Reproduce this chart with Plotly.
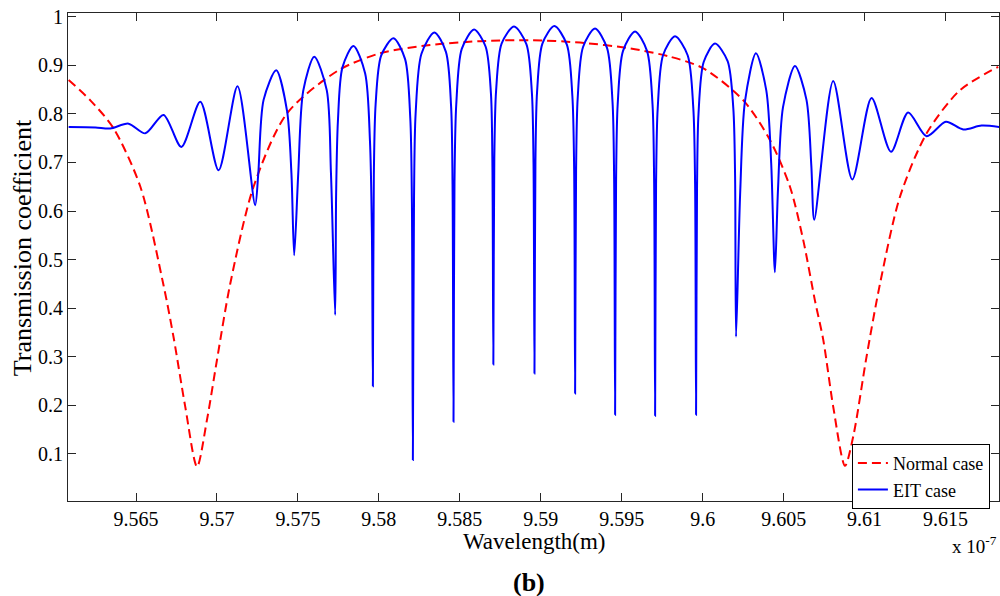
import plotly.graph_objects as go

# wavelength in units of 1e-7 m
normal_wl = [9.56084, 9.56218, 9.56360, 9.56527, 9.56670, 9.56732, 9.56804, 9.56877, 9.56938,
             9.57000, 9.57082, 9.57226, 9.57432, 9.57751, 9.58008, 9.58317, 9.58625, 9.58934,
             9.59243, 9.59551, 9.59798, 9.60004, 9.60251, 9.60416, 9.60539, 9.60621, 9.60693,
             9.60745, 9.60806, 9.60879, 9.60930, 9.61012, 9.61095, 9.61218, 9.61383, 9.61589,
             9.61825]
normal_t = [0.870, 0.828, 0.771, 0.650, 0.447, 0.340, 0.197, 0.073, 0.169,
            0.293, 0.450, 0.650, 0.801, 0.890, 0.925, 0.942, 0.950, 0.952,
            0.947, 0.935, 0.918, 0.894, 0.828, 0.746, 0.650, 0.540, 0.416,
            0.334, 0.197, 0.075, 0.136, 0.300, 0.450, 0.629, 0.760, 0.849,
            0.897]

eit_wl = [
    9.56084, 9.56250, 9.56341, 9.56454, 9.56557, 9.56670, 9.56780, 9.56897, 9.57010, 9.57127, 9.57236,
    9.57255, 9.57288, 9.57366, 9.57433, 9.57460, 9.57477,
    9.57502, 9.57533, 9.57601, 9.57678, 9.57704, 9.57730,
    9.57736, 9.57747, 9.57775, 9.57843, 9.57915, 9.57945, 9.57957, 9.57963,
    9.57969, 9.57980, 9.58014, 9.58090, 9.58162, 9.58194, 9.58204, 9.58210,
    9.58217, 9.58227, 9.58263, 9.58343, 9.58414, 9.58446, 9.58455, 9.58461,
    9.58467, 9.58478, 9.58512, 9.58588, 9.58659, 9.58692, 9.58701, 9.58707,
    9.58713, 9.58724, 9.58758, 9.58835, 9.58911, 9.58945, 9.58955, 9.58961,
    9.58967, 9.58977, 9.59010, 9.59084, 9.59161, 9.59195, 9.59206, 9.59212,
    9.59218, 9.59228, 9.59261, 9.59335, 9.59409, 9.59443, 9.59453, 9.59459,
    9.59465, 9.59475, 9.59508, 9.59582, 9.59656, 9.59690, 9.59700, 9.59706,
    9.59712, 9.59722, 9.59755, 9.59829, 9.59907, 9.59942, 9.59953, 9.59959,
    9.59965, 9.59974, 9.60006, 9.60076, 9.60154, 9.60189, 9.60200, 9.60206,
    9.60231, 9.60261, 9.60329, 9.60393, 9.60423, 9.60446,
    9.60465, 9.60496, 9.60570, 9.60641, 9.60671, 9.60689,
    9.60806, 9.60924, 9.61043, 9.61163, 9.61269, 9.61383, 9.61502, 9.61609, 9.61722, 9.61835,
]
eit_t = [
    0.773, 0.772, 0.770, 0.780, 0.760, 0.798, 0.732, 0.825, 0.684, 0.857, 0.612,
    0.676, 0.829, 0.890, 0.806, 0.677, 0.509,
    0.677, 0.848, 0.918, 0.849, 0.679, 0.386,
    0.635, 0.785, 0.896, 0.940, 0.884, 0.744, 0.554, 0.239,
    0.676, 0.820, 0.920, 0.956, 0.913, 0.791, 0.617, 0.087,
    0.624, 0.801, 0.924, 0.968, 0.928, 0.816, 0.655, 0.166,
    0.659, 0.820, 0.934, 0.974, 0.939, 0.843, 0.705, 0.284,
    0.709, 0.848, 0.945, 0.980, 0.944, 0.844, 0.701, 0.265,
    0.702, 0.845, 0.945, 0.981, 0.943, 0.837, 0.686, 0.224,
    0.683, 0.833, 0.938, 0.976, 0.936, 0.825, 0.666, 0.180,
    0.662, 0.820, 0.930, 0.970, 0.930, 0.820, 0.661, 0.178,
    0.655, 0.811, 0.921, 0.960, 0.921, 0.812, 0.656, 0.180,
    0.647, 0.800, 0.907, 0.945, 0.909, 0.812, 0.673, 0.341,
    0.633, 0.826, 0.925, 0.848, 0.699, 0.474,
    0.644, 0.814, 0.899, 0.829, 0.693, 0.582,
    0.868, 0.665, 0.833, 0.722, 0.803, 0.754, 0.784, 0.768, 0.776, 0.773,
]

x_ticks = [9.565, 9.57, 9.575, 9.58, 9.585, 9.59, 9.595, 9.6, 9.605, 9.61, 9.615]
x_ticktext = ["9.565", "9.57", "9.575", "9.58", "9.585", "9.59", "9.595", "9.6", "9.605", "9.61", "9.615"]
y_ticks = [0.1, 0.2, 0.3, 0.4, 0.5, 0.6, 0.7, 0.8, 0.9, 1.0]
y_ticktext = ["0.1", "0.2", "0.3", "0.4", "0.5", "0.6", "0.7", "0.8", "0.9", "1"]

serif = "Liberation Serif, Times New Roman, serif"

fig = go.Figure()
fig.add_trace(go.Scatter(x=normal_wl, y=normal_t, mode="lines", name="Normal case",
                         line=dict(color="#ff0000", width=2, dash="9px,5px", shape="spline", smoothing=0.8)))
fig.add_trace(go.Scatter(x=eit_wl, y=eit_t, mode="lines", name="EIT case",
                         line=dict(color="#0000ff", width=2, shape="spline", smoothing=0.8)))

axis_common = dict(showline=True, linecolor="#262626", linewidth=1, mirror="ticks",
                   ticks="inside", ticklen=8, tickcolor="#262626", showgrid=False, zeroline=False,
                   tickfont=dict(family=serif, size=20, color="#000"))

fig.update_layout(
    width=1000, height=596,
    margin=dict(l=68, r=1, t=13, b=95),
    paper_bgcolor="white", plot_bgcolor="white",
    font=dict(family=serif, color="#000"),
    xaxis=dict(range=[9.5608, 9.6183], tickvals=x_ticks, ticktext=x_ticktext, **axis_common),
    yaxis=dict(range=[0.0025, 1.008], tickvals=y_ticks, ticktext=y_ticktext, **axis_common),
    legend=dict(x=0.842, y=0.117, xanchor="left", yanchor="top", bgcolor="white",
                bordercolor="#000", borderwidth=1, font=dict(family=serif, size=18),
                tracegroupgap=0, itemwidth=30),
    annotations=[
        dict(text="Wavelength(m)", xref="paper", yref="paper", x=0.5, y=-0.082,
             showarrow=False, font=dict(size=23), xanchor="center", yanchor="middle"),
        dict(text="Transmission coefficient", xref="paper", yref="paper", x=-0.0494, y=0.518,
             textangle=-90, showarrow=False, font=dict(size=26), xanchor="center", yanchor="middle"),
        dict(text="x 10<sup>-7</sup>", xref="paper", yref="paper", x=1.0, y=-0.09,
             showarrow=False, font=dict(size=19), xanchor="right", yanchor="middle"),
        dict(text="<b>(b)</b>", xref="paper", yref="paper", x=0.495, y=-0.168,
             showarrow=False, font=dict(size=26), xanchor="center", yanchor="middle"),
    ],
)

# drop the default page margin so the 1000x596 figure fills the window exactly
fig.write_html("out.html", config={"displayModeBar": False},
               post_script="document.body.style.margin='0';document.body.style.overflow='hidden';")
